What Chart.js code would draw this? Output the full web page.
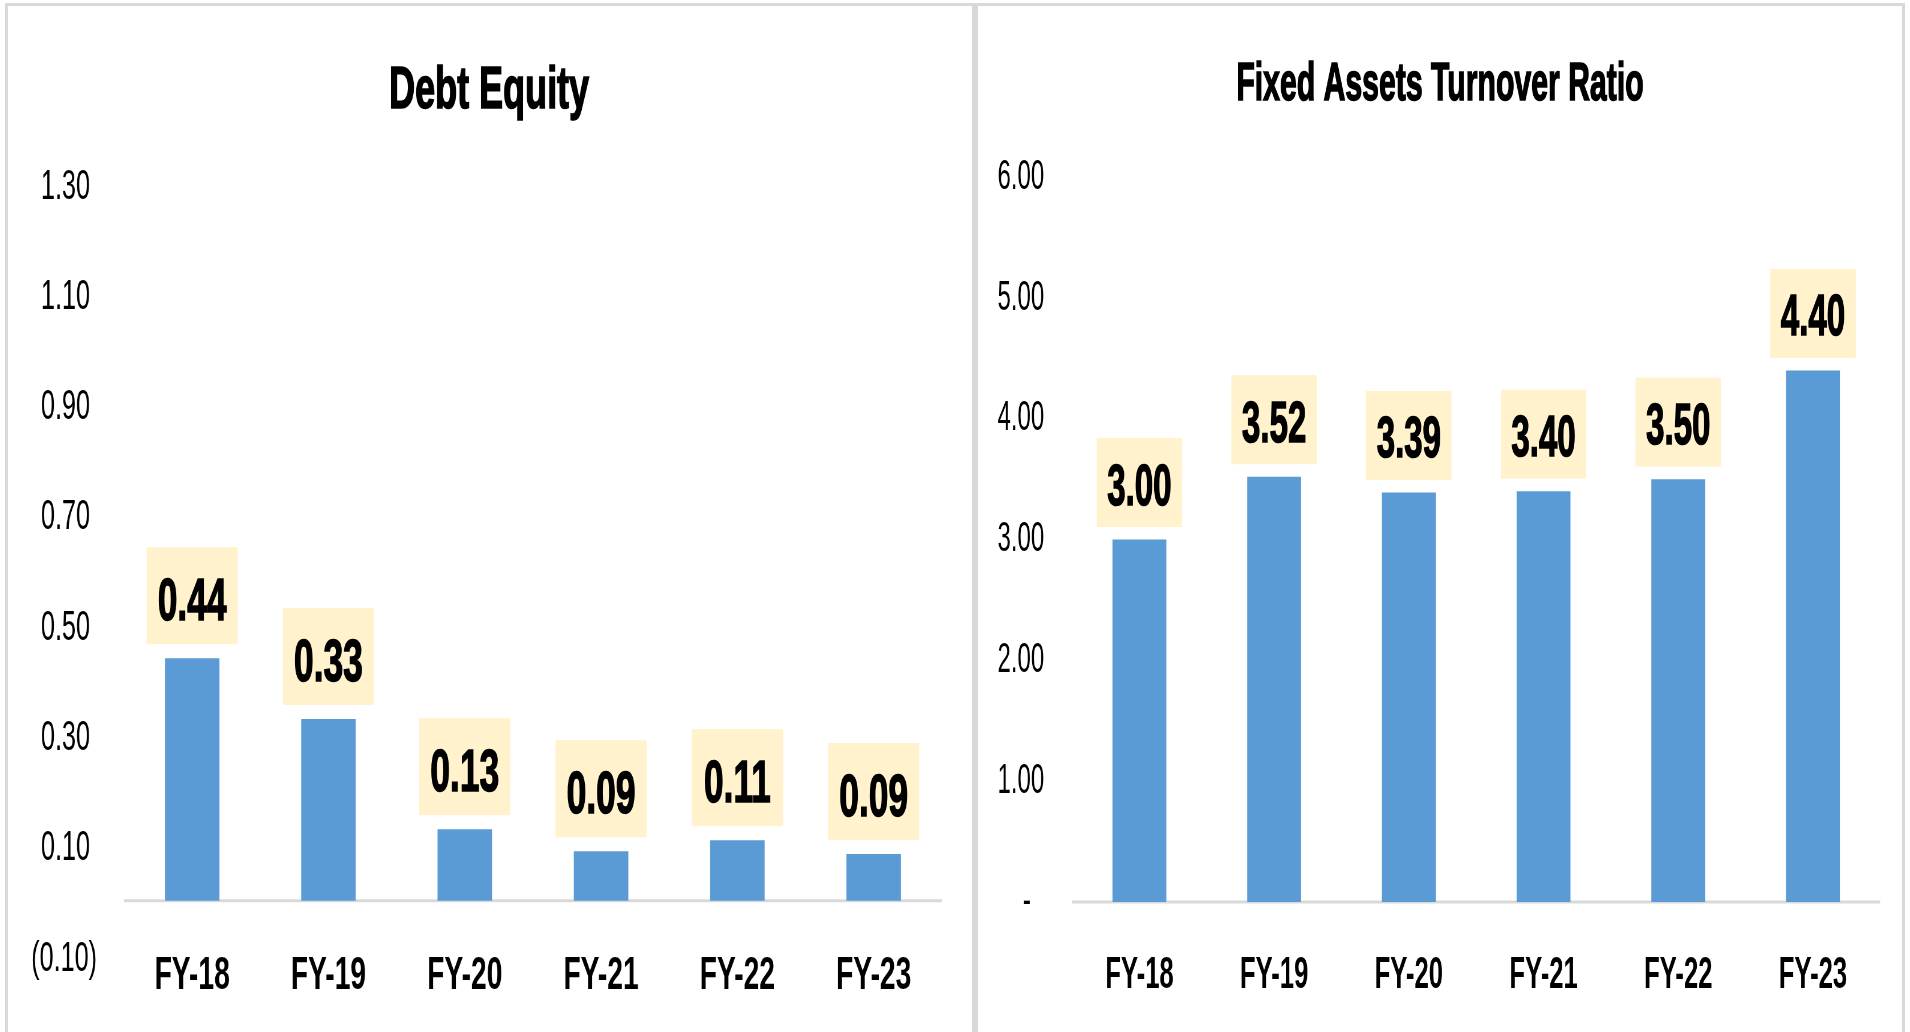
<!DOCTYPE html>
<html>
<head>
<meta charset="utf-8">
<script src="https://cdn.jsdelivr.net/npm/chart.js@4.4.1/dist/chart.umd.min.js"></script>
<style>
    html, body { margin: 0; padding: 0; width: 1910px; height: 1032px; overflow: hidden; background: #fff; }
    .panel { position: absolute; top: 3px; height: 1040px; border: 3px solid #d9d9d9; box-sizing: border-box; }
    .wrap { position: absolute; top: 5px; height: 1027px; transform-origin: 0 0; }
    #leftWrap { left: 7px; width: 1607px; transform: scaleX(0.6); }
    #rightWrap { left: 978px; width: 1621px; transform: scaleX(0.57); }
</style>
</head>
<body>
<div class="panel" style="left:5px; width:970px;"></div>
<div class="panel" style="left:975px; width:930px;"></div>
<div class="wrap" id="leftWrap"><canvas id="debtChart"></canvas></div>
<div class="wrap" id="rightWrap"><canvas id="fatrChart"></canvas></div>
<script>
        // dados
        const years = ['FY-18', 'FY-19', 'FY-20', 'FY-21', 'FY-22', 'FY-23'];
        const debtEquity = [0.44, 0.33, 0.13, 0.09, 0.11, 0.085];
        const fixedAssetsTurnover = [3.00, 3.52, 3.39, 3.40, 3.50, 4.40];
        const debtTicks = [-0.1, 0.1, 0.3, 0.5, 0.7, 0.9, 1.1, 1.3];
        const fatrTicks = [0, 1, 2, 3, 4, 5, 6];

        const FONT = "'Liberation Sans', Arial, sans-serif";
        Chart.defaults.font.family = FONT;
        Chart.defaults.color = '#000';

        // linha cinza no zero
        const zeroLine = {
            id: 'zeroLine',
            beforeDatasetsDraw(chart) {
                const y = chart.scales.y.getPixelForValue(0);
                const ctx = chart.ctx;
                ctx.save();
                ctx.strokeStyle = '#d9d9d9';
                ctx.lineWidth = 3;
                ctx.beginPath();
                ctx.moveTo(chart.chartArea.left, y);
                ctx.lineTo(chart.chartArea.right, y);
                ctx.stroke();
                ctx.restore();
            }
        };

        // caixas amarelas com os valores
        const labelBoxes = {
            id: 'labelBoxes',
            afterDatasetsDraw(chart, args, opts) {
                const ctx = chart.ctx;
                const values = chart.data.datasets[0].data;
                ctx.save();
                ctx.font = 'bold ' + opts.size + 'px ' + FONT;
                ctx.textAlign = 'center';
                ctx.textBaseline = 'middle';
                ctx.lineWidth = 1.5;
                ctx.strokeStyle = '#000';
                chart.getDatasetMeta(0).data.forEach((bar, i) => {
                    const top = bar.y - opts.gap - opts.h;
                    ctx.fillStyle = '#FFF2CC';
                    ctx.fillRect(bar.x - opts.w / 2, top, opts.w, opts.h);
                    ctx.fillStyle = '#000';
                    const txt = values[i].toFixed(2);
                    ctx.fillText(txt, bar.x, top + opts.h / 2 + opts.dy);
                    ctx.strokeText(txt, bar.x, top + opts.h / 2 + opts.dy);
                });
                ctx.restore();
            }
        };

        // titulo mais grosso (contorno por cima do titulo)
        const heavyTitle = {
            id: 'heavyTitle',
            afterDraw(chart) {
                const t = chart.options.plugins.title;
                const tb = chart.titleBlock;
                const ctx = chart.ctx;
                ctx.save();
                ctx.font = 'bold ' + t.font.size + 'px ' + FONT;
                ctx.textAlign = 'center';
                ctx.textBaseline = 'middle';
                ctx.lineWidth = 1.6;
                ctx.strokeStyle = '#000';
                ctx.strokeText(t.text, (tb.left + tb.right) / 2, tb.top + t.padding.top + t.font.size * 0.6);
                ctx.restore();
            }
        };

        function makeChart(id, title, values, ticks, cfg) {
            return new Chart(document.getElementById(id).getContext('2d'), {
                type: 'bar',
                data: {
                    labels: years,
                    datasets: [{
                        data: values,
                        backgroundColor: '#5B9BD5',
                        barPercentage: 0.4,
                        categoryPercentage: 1
                    }]
                },
                options: {
                    responsive: true,
                    maintainAspectRatio: false,
                    animation: false,
                    layout: { padding: 0 },
                    plugins: {
                        legend: { display: false },
                        tooltip: { enabled: false },
                        title: {
                            display: true,
                            text: title,
                            color: '#000',
                            font: { size: cfg.titleSize, weight: 'bold', lineHeight: 1.2 },
                            padding: { top: cfg.titleTop, bottom: cfg.titleBottom }
                        },
                        labelBoxes: cfg.box
                    },
                    scales: {
                        x: {
                            grid: { display: false, drawTicks: false },
                            border: { display: false },
                            ticks: { font: { size: cfg.xSize, weight: 'bold', lineHeight: 0.8 }, padding: cfg.xPad, color: '#000' },
                            afterFit: (s) => { s.height = cfg.xHeight; }
                        },
                        y: {
                            min: ticks[0],
                            max: ticks[ticks.length - 1],
                            grid: { display: false, drawTicks: false },
                            border: { display: false },
                            afterBuildTicks: (s) => { s.ticks = ticks.map(v => ({ value: v })); },
                            afterFit: (s) => { s.width = cfg.yWidth; },
                            ticks: {
                                font: { size: cfg.ySize },
                                padding: cfg.yPad,
                                labelOffset: cfg.yShift,
                                color: '#000',
                                callback: cfg.fmt
                            }
                        },
                        // espaco vazio a direita (mantem o titulo centrado)
                        yRight: {
                            type: 'linear',
                            position: 'right',
                            grid: { display: false, drawTicks: false },
                            border: { display: false },
                            ticks: { display: false },
                            afterFit: (s) => { s.width = cfg.padRight; }
                        }
                    }
                },
                plugins: [zeroLine, labelBoxes, heavyTitle]
            });
        }

        // Debt Equity
        makeChart('debtChart', 'Debt Equity', debtEquity, debtTicks, {
            padRight: 49, titleSize: 60, titleTop: 50.5, titleBottom: 56.5,
            xSize: 47, xPad: 1, xHeight: 76,
            ySize: 42, yPad: 45, yWidth: 195, yShift: 3,
            fmt: (v) => v < 0 ? '(' + Math.abs(v).toFixed(2) + ')' : v.toFixed(2) + ' ',
            box: { w: 152, h: 97, gap: 14, size: 59, dy: 8 }
        });

        // Fixed Assets Turnover Ratio
        makeChart('fatrChart', 'Fixed Assets Turnover Ratio', fixedAssetsTurnover, fatrTicks, {
            padRight: 38, titleSize: 53, titleTop: 48.3, titleBottom: 60.3,
            xSize: 45, xPad: 56, xHeight: 130,
            ySize: 42, yPad: 49, yWidth: 165, yShift: 0,
            fmt: (v) => v === 0 ? '-  ' : v.toFixed(2),
            box: { w: 150, h: 89, gap: 12.6, size: 58, dy: 6 }
        });
</script>
</body>
</html>
